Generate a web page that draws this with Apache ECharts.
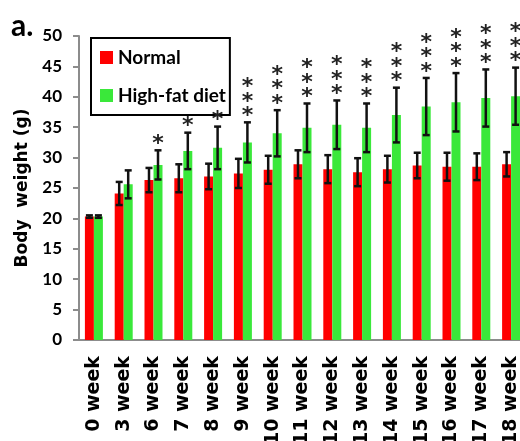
<!DOCTYPE html>
<html>
<head>
<meta charset="utf-8">
<script src="https://cdn.jsdelivr.net/npm/echarts@6/dist/echarts.min.js"></script>
<style>
  html, body { margin: 0; padding: 0; background: #fff; }
  #chart { width: 520px; height: 441px; }
</style>
</head>
<body>
<div id="chart"></div>
<script>
  // data
  const weeks = ['0 week', '3 week', '6 week', '7 week', '8 week', '9 week', '10 week', '11 week',
    '12 week', '13 week', '14 week', '15 week', '16 week', '17 week', '18 week'];
  const normal = [20.3, 24.1, 26.3, 26.6, 26.9, 27.4, 28.0, 28.9, 28.1, 27.6, 28.1, 28.7, 28.5, 28.5, 28.9];
  const normalErr = [0.2, 1.9, 2.0, 2.3, 2.1, 2.4, 2.3, 2.3, 2.3, 2.3, 2.2, 2.1, 2.3, 2.2, 2.0];
  const highFat = [20.3, 25.6, 28.8, 31.1, 31.6, 32.5, 34.0, 34.9, 35.4, 34.9, 37.0, 38.4, 39.1, 39.8, 40.1];
  const highFatErr = [0.2, 2.3, 2.4, 3.0, 3.5, 3.3, 3.8, 4.0, 4.0, 4.0, 4.5, 4.7, 4.8, 4.7, 4.7];
  const stars = [0, 0, 1, 1, 1, 3, 3, 3, 3, 3, 3, 3, 3, 3, 3];
  const yTicks = { min: 0, max: 50, interval: 5 };

  const colors = ['#ff0000', '#3ae83a'];
  const font = 'Lato';
  const wide = '"DejaVu Sans"';
  const barW = 9;

  var myChart = echarts.init(document.getElementById('chart'));

  // error bar (+ significance stars) drawn on top of a bar series
  function errorSeries(name, values, errs, offset, marks) {
    return {
      name: name + ' err',
      type: 'custom',
      z: 5,
      silent: true,
      encode: { x: 0, y: 1 },
      data: values.map((v, i) => [i, v, errs[i], marks ? marks[i] : 0]),
      renderItem: function (params, api) {
        const i = api.value(0), v = api.value(1), e = api.value(2), n = api.value(3);
        const x = api.coord([i, v])[0] + offset;
        const hi = api.coord([i, v + e])[1];
        const lo = api.coord([i, v - e])[1];
        const st = { stroke: '#111', lineWidth: 2.5 };
        const kids = [
          { type: 'line', shape: { x1: x, y1: hi, x2: x, y2: lo }, style: st },
          { type: 'line', shape: { x1: x - 3.5, y1: hi, x2: x + 3.5, y2: hi }, style: st },
          { type: 'line', shape: { x1: x - 3.5, y1: lo, x2: x + 3.5, y2: lo }, style: st }
        ];
        for (let k = 0; k < n; k++) {
          kids.push({
            type: 'text',
            style: {
              text: '*', x: x, y: hi - 6 - k * 14.5,
              align: 'center', verticalAlign: 'middle',
              font: 'bold 22px ' + wide, fill: '#222'
            }
          });
        }
        return { type: 'group', children: kids };
      }
    };
  }

  let option = {
    animation: false,
    color: colors,
    graphic: [{
      type: 'text', left: 11, top: 11,
      style: { text: 'a.', font: 'bold 30px ' + font, fill: '#000' }
    }],
    legend: {
      data: ['Normal', 'High-fat diet'],
      orient: 'vertical',
      left: 91, top: 38,
      padding: [10, 4, 10, 9],
      itemGap: 19,
      itemWidth: 13, itemHeight: 13,
      icon: 'rect',
      borderColor: '#000', borderWidth: 2,
      backgroundColor: '#fff',
      textStyle: { fontFamily: font, fontWeight: 'bold', fontSize: 19, color: '#000' }
    },
    grid: { left: 79, top: 36, width: 447, bottom: 101, outerBoundsMode: 'none' },
    xAxis: {
      type: 'category',
      data: weeks,
      axisLine: { lineStyle: { color: '#8c8c8c', width: 2 } },
      axisTick: { length: 5, lineStyle: { color: '#8c8c8c', width: 2 } },
      axisLabel: {
        rotate: 90, interval: 0, margin: 16,
        fontFamily: wide, fontWeight: 'bold', fontSize: 19, color: '#000'
      }
    },
    yAxis: {
      type: 'value',
      min: yTicks.min, max: yTicks.max, interval: yTicks.interval,
      name: 'Body  weight (g)',
      nameLocation: 'middle',
      nameGap: 47,
      nameTextStyle: { fontFamily: wide, fontWeight: 'bold', fontSize: 17, color: '#000' },
      splitLine: { show: false },
      axisLine: { show: true, lineStyle: { color: '#8c8c8c', width: 2 } },
      axisTick: { show: true, length: 6, lineStyle: { color: '#8c8c8c', width: 2 } },
      axisLabel: { margin: 17, fontFamily: font, fontWeight: 'bold', fontSize: 17, color: '#000' }
    },
    series: [
      { name: 'Normal', type: 'bar', barWidth: barW, barGap: '0%', data: normal },
      { name: 'High-fat diet', type: 'bar', barWidth: barW, barGap: '0%', data: highFat },
      errorSeries('Normal', normal, normalErr, -barW / 2, null),
      errorSeries('High-fat diet', highFat, highFatErr, barW / 2, stars)
    ]
  };
  myChart.setOption(option);
</script>
</body>
</html>
